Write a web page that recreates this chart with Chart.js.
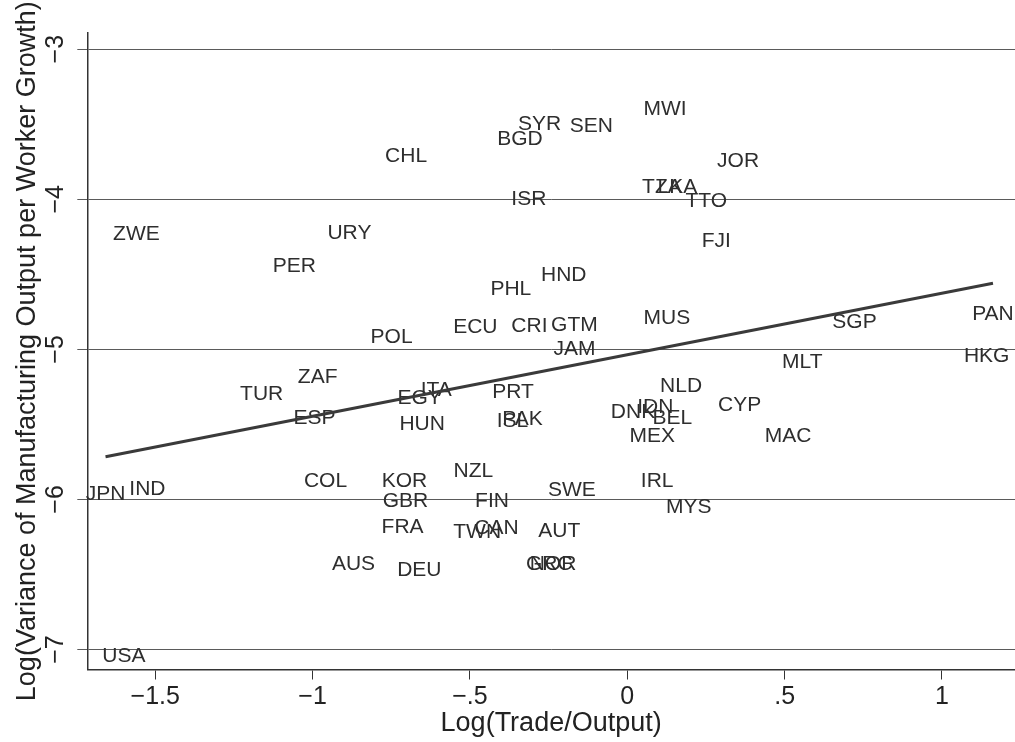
<!DOCTYPE html>
<html>
<head>
<meta charset="utf-8">
<script src="https://cdn.jsdelivr.net/npm/chart.js@4.4.1/dist/chart.umd.min.js"></script>
<style>
  html, body { margin: 0; padding: 0; background: #fff; }
  #chart { display: block; }
</style>
</head>
<body>
<canvas id="chart" width="1015" height="742"></canvas>
<script>
// country codes and their (log trade/output, log variance) positions
var countries = ['CHL', 'BGD', 'SYR', 'SEN', 'MWI', 'JOR', 'TZA', 'LKA', 'TTO', 'ISR',
                 'FJI', 'HND', 'PHL', 'MUS', 'CRI', 'GTM', 'JAM', 'SGP', 'PAN', 'HKG',
                 'MLT', 'NLD', 'CYP', 'MAC', 'DNK', 'IDN', 'BEL', 'MEX', 'IRL', 'MYS',
                 'SWE', 'NZL', 'FIN', 'TWN', 'CAN', 'AUT', 'GRC', 'NOR', 'PRT', 'ISL',
                 'PAK', 'EGY', 'ITA', 'HUN', 'ESP', 'ZAF', 'TUR', 'COL', 'KOR', 'GBR',
                 'FRA', 'AUS', 'DEU', 'JPN', 'IND', 'USA', 'ZWE', 'URY', 'PER', 'POL',
                 'ECU'];
var tradeLog = [-0.703, -0.341, -0.279, -0.114, 0.120, 0.352, 0.110, 0.159, 0.251, -0.313,
                0.283, -0.202, -0.370, 0.126, -0.311, -0.168, -0.168, 0.722, 1.162, 1.142,
                0.556, 0.171, 0.357, 0.511, 0.018, 0.089, 0.143, 0.079, 0.095, 0.195,
                -0.176, -0.489, -0.430, -0.477, -0.416, -0.216, -0.248, -0.236, -0.363, -0.365,
                -0.333, -0.660, -0.607, -0.652, -0.994, -0.984, -1.162, -0.959, -0.708, -0.705,
                -0.714, -0.870, -0.661, -1.658, -1.525, -1.600, -1.560, -0.883, -1.058, -0.749,
                -0.483];
var varianceLog = [-3.700, -3.587, -3.487, -3.503, -3.387, -3.733, -3.907, -3.907, -4.003, -3.987,
                   -4.267, -4.495, -4.590, -4.783, -4.833, -4.830, -4.990, -4.810, -4.757, -5.033,
                   -5.077, -5.233, -5.360, -5.570, -5.410, -5.373, -5.450, -5.570, -5.867, -6.037,
                   -5.930, -5.797, -5.997, -6.210, -6.183, -6.197, -6.423, -6.423, -5.273, -5.467,
                   -5.457, -5.317, -5.261, -5.490, -5.450, -5.177, -5.290, -5.867, -5.870, -6.000,
                   -6.173, -6.423, -6.457, -5.953, -5.923, -7.033, -4.220, -4.215, -4.437, -4.910,
                   -4.843];

// fitted line, end points at the smallest and largest trade value
var fitX = [-1.658, 1.162];
var fitY = [-5.715, -4.559];

var xTickValues = [-1.5, -1, -0.5, 0, 0.5, 1];
var xTickLabels = ['\u22121.5', '\u22121', '\u2212.5', '0', '.5', '1'];
var yTickValues = [-7, -6, -5, -4, -3];
var yTickLabels = ['\u22127', '\u22126', '\u22125', '\u22124', '\u22123'];

var fontFamily = '"Liberation Sans", Arial, Helvetica, sans-serif';

var points = [];
for (var i = 0; i < countries.length; i++) {
    points.push({ x: tradeLog[i], y: varianceLog[i] });
}
var fitPoints = [];
for (var j = 0; j < fitX.length; j++) {
    fitPoints.push({ x: fitX[j], y: fitY[j] });
}

// writes the country code centred on each (invisible) scatter point
var countryLabels = {
    id: 'countryLabels',
    beforeDatasetsDraw: function (chart) {
        var meta = chart.getDatasetMeta(0);
        var c = chart.ctx;
        var size = 21;
        c.save();
        c.font = size + 'px ' + fontFamily;
        c.fillStyle = '#2e2e2e';
        c.textAlign = 'center';
        c.textBaseline = 'alphabetic';
        meta.data.forEach(function (pt, k) {
            // centre the capitals on the point
            c.fillText(countries[k], pt.x, pt.y + size * 0.358);
        });
        c.restore();
    }
};

function setTicks(values) {
    return function (scale) {
        scale.ticks = values.map(function (v) { return { value: v }; });
    };
}

var chart = new Chart(document.getElementById('chart').getContext('2d'), {
    type: 'scatter',
    data: {
        datasets: [{
            label: 'countries',
            data: points,
            pointRadius: 0,
            pointHoverRadius: 0
        }, {
            label: 'fit',
            data: fitPoints,
            showLine: true,
            pointRadius: 0,
            borderColor: '#3a3a3a',
            borderWidth: 3
        }]
    },
    options: {
        responsive: false,
        animation: false,
        layout: { padding: { top: 33, right: 0, bottom: 0, left: 0 } },
        plugins: {
            legend: { display: false },
            tooltip: { enabled: false }
        },
        scales: {
            x: {
                type: 'linear',
                min: -1.716,
                max: 1.232,
                afterBuildTicks: setTicks(xTickValues),
                afterFit: function (scale) { scale.height = 72.5; },
                border: { color: '#333333', width: 1.5 },
                grid: { drawOnChartArea: false, drawTicks: true, tickLength: 10, color: '#333333' },
                ticks: {
                    padding: 3,
                    color: '#222222',
                    font: { family: fontFamily, size: 25 },
                    maxRotation: 0,
                    callback: function (v) { return xTickLabels[xTickValues.indexOf(v)]; }
                },
                title: {
                    display: true,
                    text: 'Log(Trade/Output)',
                    color: '#222222',
                    font: { family: fontFamily, size: 27 },
                    padding: { top: 0, bottom: 2 }
                }
            },
            y: {
                type: 'linear',
                min: -7.133,
                max: -2.892,
                afterBuildTicks: setTicks(yTickValues),
                afterFit: function (scale) { scale.width = 87.3; },
                border: { color: '#333333', width: 1.5 },
                grid: { color: '#5a5a5a', lineWidth: 1, tickLength: 10 },
                ticks: {
                    padding: 7,
                    color: '#222222',
                    font: { family: fontFamily, size: 25 },
                    minRotation: 90,
                    maxRotation: 90,
                    crossAlign: 'center',
                    callback: function (v) { return yTickLabels[yTickValues.indexOf(v)]; }
                },
                title: {
                    display: true,
                    text: 'Log(Variance of Manufacturing Output per Worker Growth)',
                    color: '#222222',
                    font: { family: fontFamily, size: 27 },
                    padding: { top: 11, bottom: 0 }
                }
            }
        }
    },
    plugins: [countryLabels]
});
</script>
</body>
</html>
